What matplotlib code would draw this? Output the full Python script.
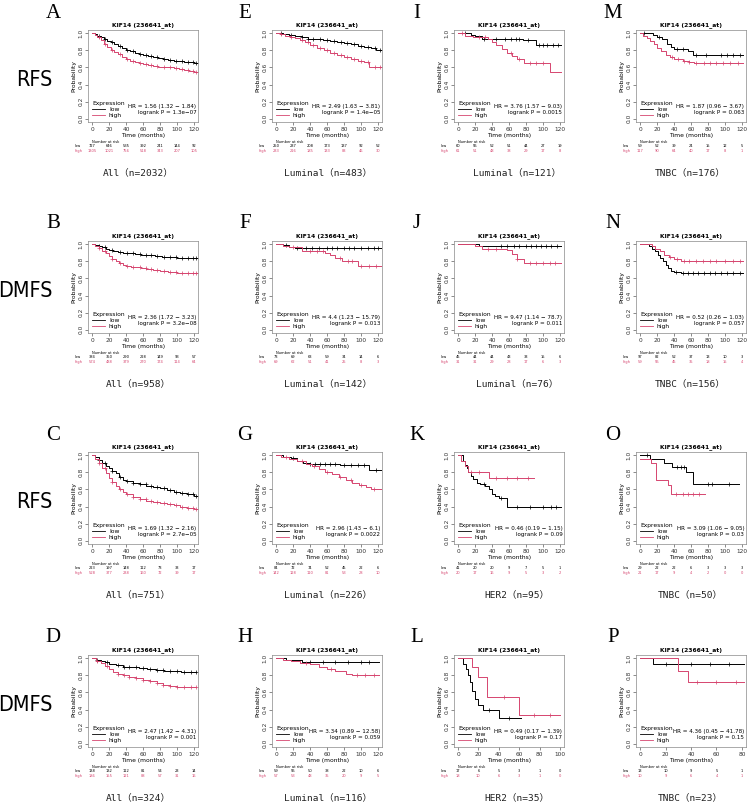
import numpy as np
import matplotlib
matplotlib.use("Agg")
import matplotlib.pyplot as plt

RED = "#d6456f"
W, H = 750, 809

# ---- survival curves: (time in months, survival probability), step "post" ----
# row 1 : RFS
A_low = ([0, 3, 6, 10, 14, 18, 22, 26, 30, 35, 40, 45, 50, 55, 60, 66, 72, 78, 84, 90, 96, 102, 108, 114, 120, 125],
         [1, .99, .975, .955, .935, .915, .895, .875, .855, .83, .81, .79, .775, .76, .745, .73, .72, .71, .70, .69, .68, .675, .668, .662, .655, .652])
A_high = ([0, 3, 6, 10, 14, 18, 22, 26, 30, 35, 40, 45, 50, 55, 60, 66, 72, 78, 84, 90, 96, 102, 108, 114, 120, 125],
          [1, .98, .955, .92, .88, .845, .81, .78, .755, .725, .70, .68, .665, .65, .64, .63, .62, .61, .605, .60, .59, .58, .57, .56, .55, .545])
E_low = ([0, 8, 15, 22, 30, 38, 46, 55, 64, 72, 80, 88, 96, 104, 112, 118, 125],
         [1, .995, .985, .97, .955, .94, .93, .92, .91, .90, .89, .87, .85, .84, .83, .81, .81])
E_high = ([0, 5, 10, 16, 22, 28, 34, 40, 48, 56, 64, 72, 80, 88, 96, 104, 110, 118, 125],
          [1, .99, .975, .96, .945, .92, .895, .865, .83, .80, .77, .745, .72, .70, .68, .66, .61, .60, .60])
I_low = ([0, 15, 20, 28, 76, 92, 121],
         [1, .985, .965, .94, .925, .86, .86])
I_high = ([0, 8, 18, 35, 40, 45, 52, 58, 64, 70, 78, 108, 121],
          [1, .975, .955, .93, .90, .86, .82, .77, .73, .70, .65, .55, .55])
M_low = ([0, 15, 20, 26, 32, 36, 40, 56, 62, 121],
         [1, .985, .96, .93, .88, .84, .82, .79, .75, .75])
M_high = ([0, 4, 8, 12, 16, 20, 25, 30, 35, 40, 50, 58, 63, 121],
          [1, .97, .945, .91, .87, .83, .79, .75, .72, .70, .68, .665, .65, .65])
# row 2 : DMFS
B_low = ([0, 4, 8, 12, 16, 20, 25, 30, 36, 42, 50, 58, 66, 74, 82, 90, 100, 110, 120, 125],
         [1, .99, .98, .965, .95, .935, .925, .915, .905, .895, .885, .875, .87, .86, .855, .85, .845, .84, .835, .835])
B_high = ([0, 4, 8, 12, 16, 20, 24, 28, 32, 36, 40, 46, 52, 58, 64, 72, 80, 90, 100, 110, 120, 125],
          [1, .98, .955, .925, .895, .86, .83, .80, .78, .76, .75, .74, .73, .72, .71, .70, .69, .68, .67, .665, .66, .66])
F_low = ([0, 8, 15, 22, 125],
         [1, .99, .975, .96, .96])
F_high = ([0, 8, 15, 30, 58, 64, 70, 78, 96, 125],
          [1, .985, .965, .92, .90, .87, .84, .81, .75, .75])
J_low = ([0, 25, 121],
         [1, .98, .98])
J_high = ([0, 20, 28, 58, 64, 70, 78, 121],
          [1, .98, .95, .93, .89, .83, .78, .78])
N_low = ([0, 10, 14, 18, 21, 24, 27, 30, 33, 36, 40, 48, 121],
         [1, .98, .95, .92, .88, .84, .80, .76, .72, .69, .68, .67, .67])
N_high = ([0, 14, 18, 24, 28, 34, 40, 48, 121],
          [1, .98, .95, .92, .88, .85, .83, .81, .81])
# row 3 : RFS
C_low = ([0, 4, 8, 12, 16, 20, 24, 28, 32, 36, 40, 48, 56, 64, 72, 80, 88, 96, 104, 112, 120, 125],
         [1, .98, .95, .915, .88, .85, .82, .79, .75, .71, .695, .68, .665, .64, .625, .615, .595, .57, .56, .545, .52, .52])
C_high = ([0, 4, 8, 12, 16, 20, 24, 28, 32, 36, 40, 48, 56, 64, 72, 80, 88, 96, 104, 112, 120, 125],
          [1, .96, .91, .85, .79, .74, .69, .64, .605, .575, .55, .515, .49, .47, .455, .44, .43, .415, .40, .385, .37, .36])
G_low = ([0, 8, 18, 25, 32, 40, 75, 110, 125],
         [1, .985, .965, .94, .915, .90, .885, .83, .83])
G_high = ([0, 6, 15, 25, 35, 42, 50, 58, 66, 74, 82, 90, 98, 106, 112, 125],
          [1, .985, .96, .93, .90, .87, .84, .81, .78, .75, .71, .68, .655, .63, .60, .60])
K_low = ([0, 6, 8, 10, 12, 15, 18, 22, 26, 32, 36, 40, 44, 48, 58, 121],
         [1, .93, .89, .85, .80, .76, .72, .68, .66, .64, .60, .55, .52, .50, .40, .40])
K_high = ([0, 4, 8, 12, 37, 90],
          [1, .93, .87, .80, .73, .73])
O_low = ([0, 12, 28, 38, 54, 62, 116],
         [1, .96, .91, .86, .80, .66, .66])
O_high = ([0, 13, 19, 33, 37, 76],
          [.96, .91, .71, .65, .55, .55])
# row 4 : DMFS
D_low = ([0, 5, 10, 15, 20, 28, 36, 45, 55, 65, 75, 85, 95, 105, 115, 122],
         [1, .985, .97, .955, .94, .92, .905, .895, .885, .875, .865, .855, .85, .845, .84, .84])
D_high = ([0, 5, 10, 15, 20, 25, 30, 36, 44, 52, 60, 68, 76, 84, 92, 100, 110, 122],
          [1, .975, .945, .91, .875, .845, .82, .80, .785, .77, .75, .73, .71, .69, .675, .665, .66, .66])
H_low = ([0, 12, 30, 121],
         [1, .98, .96, .96])
H_high = ([0, 8, 18, 28, 40, 50, 60, 70, 82, 90, 121],
          [1, .985, .97, .95, .93, .90, .87, .85, .82, .80, .80])
L_low = ([0, 5, 8, 10, 12, 14, 17, 20, 24, 40, 62],
         [1, .94, .88, .80, .72, .62, .52, .45, .40, .30, .30])
L_high = ([0, 14, 20, 28, 60, 100],
          [1, .90, .78, .55, .33, .33])
P_low = ([0, 10, 82],
         [1, .94, .94])
P_high = ([0, 30, 38, 82],
          [1, .85, .72, .72])

# ---- censoring times (months) ----
A_cens = [8, 15, 24, 33, 41, 48, 56, 63, 70, 77, 85, 92, 99, 106, 113, 119, 123]
E_cens = [6, 18, 30, 38, 44, 52, 60, 68, 76, 84, 92, 100, 108, 116, 122]
I_low_c = [8, 30, 45, 55, 62, 68, 72, 82, 95, 100, 105, 112, 118]
I_high_c = [5, 25, 32, 62, 72, 85, 92, 100]
M_low_c = [5, 22, 44, 50, 66, 78, 95, 102, 110, 118]
M_high_c = [38, 45, 52, 58, 66, 75, 82, 90, 98, 106, 115]
F_low_c = [12, 25, 35, 42, 50, 60, 66, 72, 80, 86, 92, 100, 108, 115, 120]
F_high_c = [20, 40, 48, 55, 75, 85, 90, 100, 110, 118]
J_low_c = [50, 58, 66, 72, 80, 86, 92, 98, 104, 110, 116]
J_high_c = [35, 45, 70, 85, 92, 100, 108, 114]
N_low_c = [42, 50, 56, 62, 68, 75, 82, 88, 95, 102, 110, 118]
N_high_c = [35, 44, 52, 58, 66, 74, 82, 90, 100, 110, 118]
G_low_c = [20, 40, 46, 52, 58, 64, 70, 80, 88, 96, 104, 118]
G_high_c = [12, 30, 45, 60, 75, 88, 100, 115]
K_low_c = [30, 50, 70, 85, 100, 110, 115]
K_high_c = [15, 25, 45, 58, 70, 82]
O_low_c = [8, 44, 48, 52, 80, 85, 105]
O_high_c = [42, 50, 56, 62, 70]
H_low_c = [40, 55, 70, 85, 100, 110]
H_high_c = [35, 65, 95, 105, 115]
L_low_c = [30, 50]
L_high_c = [45, 75, 90]
P_low_c = [20, 40, 55, 70]
P_high_c = [45, 60, 75]

# ---- numbers at risk ----
A_risk = ([727, 646, 535, 392, 241, 144, 92], [1305, 1021, 756, 518, 343, 207, 105])
E_risk = ([250, 237, 208, 173, 137, 92, 52], [233, 216, 185, 133, 83, 46, 30])
I_risk = ([60, 55, 52, 51, 44, 27, 19], [61, 51, 48, 38, 29, 17, 8])
M_risk = ([59, 52, 39, 24, 15, 12, 5], [117, 90, 64, 40, 17, 8, 1])
B_risk = ([384, 350, 290, 228, 149, 93, 57], [574, 488, 379, 270, 174, 114, 64])
F_risk = ([73, 69, 63, 59, 34, 14, 6], [69, 62, 51, 41, 25, 8, 3])
J_risk = ([45, 44, 44, 43, 33, 15, 6], [31, 31, 29, 28, 17, 6, 3])
N_risk = ([97, 82, 52, 37, 13, 10, 3], [59, 55, 45, 35, 18, 15, 4])
C_risk = ([223, 197, 148, 112, 73, 33, 17], [528, 377, 238, 160, 72, 39, 17])
G_risk = ([84, 72, 74, 52, 45, 22, 6], [142, 128, 110, 81, 53, 28, 10])
K_risk = ([41, 20, 20, 9, 7, 5, 1], [20, 17, 16, 9, 5, 3, 2])
O_risk = ([29, 22, 22, 6, 3, 3, 3], [21, 17, 9, 4, 2, 0, 0])
D_risk = ([138, 132, 112, 81, 54, 23, 14], [186, 155, 121, 88, 57, 31, 16])
H_risk = ([59, 55, 50, 38, 22, 10, 6], [57, 53, 48, 35, 20, 9, 5])
L_risk = ([17, 6, 5, 3, 1, 0], [18, 10, 6, 3, 1, 0])
P_risk = ([13, 10, 9, 5, 1], [10, 9, 6, 4, 1])

ticks120 = [0, 20, 40, 60, 80, 100, 120]
ticks100 = [0, 20, 40, 60, 80, 100]
ticks80 = [0, 20, 40, 60, 80]

hr_text = {
    "A": ("HR = 1.56 (1.32 − 1.84)", "logrank P = 1.3e−07"),
    "E": ("HR = 2.49 (1.63 − 3.81)", "logrank P = 1.4e−05"),
    "I": ("HR = 3.76 (1.57 − 9.03)", "logrank P = 0.0015"),
    "M": ("HR = 1.87 (0.96 − 3.67)", "logrank P = 0.063"),
    "B": ("HR = 2.36 (1.72 − 3.23)", "logrank P = 3.2e−08"),
    "F": ("HR = 4.4 (1.23 − 15.79)", "logrank P = 0.013"),
    "J": ("HR = 9.47 (1.14 − 78.7)", "logrank P = 0.011"),
    "N": ("HR = 0.52 (0.26 − 1.03)", "logrank P = 0.057"),
    "C": ("HR = 1.69 (1.32 − 2.16)", "logrank P = 2.7e−05"),
    "G": ("HR = 2.96 (1.43 − 6.1)", "logrank P = 0.0022"),
    "K": ("HR = 0.46 (0.19 − 1.15)", "logrank P = 0.09"),
    "O": ("HR = 3.09 (1.06 − 9.05)", "logrank P = 0.03"),
    "D": ("HR = 2.47 (1.42 − 4.31)", "logrank P = 0.001"),
    "H": ("HR = 3.34 (0.89 − 12.58)", "logrank P = 0.059"),
    "L": ("HR = 0.49 (0.17 − 1.39)", "logrank P = 0.17"),
    "P": ("HR = 4.36 (0.45 − 41.78)", "logrank P = 0.15"),
}

subtitles = {
    "A": "All（n=2032）", "E": "Luminal（n=483）", "I": "Luminal（n=121）", "M": "TNBC（n=176）",
    "B": "All（n=958）", "F": "Luminal（n=142）", "J": "Luminal（n=76）", "N": "TNBC（n=156）",
    "C": "All（n=751）", "G": "Luminal（n=226）", "K": "HER2（n=95）", "O": "TNBC（n=50）",
    "D": "All（n=324）", "H": "Luminal（n=116）", "L": "HER2（n=35）", "P": "TNBC（n=23）",
}
row_labels = ["RFS", "DMFS", "RFS", "DMFS"]

layout = [["A", "E", "I", "M"], ["B", "F", "J", "N"], ["C", "G", "K", "O"], ["D", "H", "L", "P"]]

panels = {
    "A": (A_low, A_high, A_cens, A_cens, A_risk, ticks120),
    "E": (E_low, E_high, E_cens, E_cens, E_risk, ticks120),
    "I": (I_low, I_high, I_low_c, I_high_c, I_risk, ticks120),
    "M": (M_low, M_high, M_low_c, M_high_c, M_risk, ticks120),
    "B": (B_low, B_high, A_cens, A_cens, B_risk, ticks120),
    "F": (F_low, F_high, F_low_c, F_high_c, F_risk, ticks120),
    "J": (J_low, J_high, J_low_c, J_high_c, J_risk, ticks120),
    "N": (N_low, N_high, N_low_c, N_high_c, N_risk, ticks120),
    "C": (C_low, C_high, A_cens, A_cens, C_risk, ticks120),
    "G": (G_low, G_high, G_low_c, G_high_c, G_risk, ticks120),
    "K": (K_low, K_high, K_low_c, K_high_c, K_risk, ticks120),
    "O": (O_low, O_high, O_low_c, O_high_c, O_risk, ticks120),
    "D": (D_low, D_high, E_cens, E_cens, D_risk, ticks120),
    "H": (H_low, H_high, H_low_c, H_high_c, H_risk, ticks120),
    "L": (L_low, L_high, L_low_c, L_high_c, L_risk, ticks100),
    "P": (P_low, P_high, P_low_c, P_high_c, P_risk, ticks80),
}

col_left = [88, 272, 454, 636]
row_top = [30, 241, 452, 655]
ax_w, ax_h = 110, 92
letter_x = [53, 245, 417, 613]
sub_x = [138, 328, 517, 690]


def surv_at(curve, times):
    t, s = np.array(curve[0]), np.array(curve[1])
    idx = np.searchsorted(t, times, side="right") - 1
    idx = np.clip(idx, 0, len(s) - 1)
    ok = np.array(times) <= t[-1]
    return np.array(times)[ok], s[idx][ok]


fig = plt.figure(figsize=(W / 100, H / 100), dpi=100)

for r, row in enumerate(layout):
    fig.text(53 / W, 1 - (row_top[r] + 50) / H, row_labels[r], ha="right", va="center",
             fontsize=15.5, family="DejaVu Sans", fontstretch="condensed")
    for c, key in enumerate(row):
        low, high, lc, hc, risk, ticks = panels[key]
        left, top = col_left[c], row_top[r]
        ax = fig.add_axes([left / W, 1 - (top + ax_h) / H, ax_w / W, ax_h / H])
        pad = ticks[-1] * 0.04
        for curve, cens, col in [(low, lc, "black"), (high, hc, RED)]:
            ax.step(curve[0], curve[1], where="post", color=col, lw=0.7)
            ct, cs = surv_at(curve, cens)
            ax.plot(ct, cs, "+", color=col, ms=2.2, mew=0.5)
        ax.set_xlim(-pad, ticks[-1] + pad)
        ax.set_ylim(-0.04, 1.04)
        ax.set_xticks(ticks)
        ax.set_yticks([0, 0.2, 0.4, 0.6, 0.8, 1.0])
        ax.set_yticklabels(["0.0", "0.2", "0.4", "0.6", "0.8", "1.0"], rotation=90, va="center")
        ax.tick_params(labelsize=4.2, length=2, width=0.4, pad=1.5, colors="#333333")
        for sp in ax.spines.values():
            sp.set_linewidth(0.5)
            sp.set_color("#888888")
        ax.set_xlabel("Time (months)", fontsize=4.3, labelpad=1)
        ax.set_ylabel("Probability", fontsize=4.3, labelpad=1.5)
        ax.set_title("KIF14 (236641_at)", fontsize=4.3, fontweight="bold", pad=3)
        ax.plot([], [], color="black", lw=0.6, label="low")
        ax.plot([], [], color=RED, lw=0.6, label="high")
        leg = ax.legend(loc="lower left", title="Expression", fontsize=4.3, title_fontsize=4.3,
                        frameon=False, handlelength=2.2, labelspacing=0.1, borderaxespad=0.3,
                        handletextpad=0.6)
        leg._legend_box.align = "left"
        hr, lp = hr_text[key]
        ax.text(0.985, 0.17, hr, transform=ax.transAxes, ha="right", va="center", fontsize=4.1)
        ax.text(0.985, 0.10, lp, transform=ax.transAxes, ha="right", va="center", fontsize=4.1)
        # number at risk table
        tr = ax.get_xaxis_transform()
        ax.text(ticks[0], -0.215, "Number at risk", transform=tr, fontsize=2.6, ha="left", va="center")
        ax.text(-0.09, -0.265, "low", transform=ax.transAxes, fontsize=2.6, ha="center", va="center")
        ax.text(-0.09, -0.31, "high", transform=ax.transAxes, fontsize=2.6, ha="center", va="center",
                color=RED)
        for x, lo, hi in zip(ticks, risk[0], risk[1]):
            ax.text(x, -0.265, str(lo), transform=tr, fontsize=2.6, ha="center", va="center")
            ax.text(x, -0.31, str(hi), transform=tr, fontsize=2.6, ha="center", va="center", color=RED)
        fig.text(letter_x[c] / W, 1 - (top - 17) / H, key, ha="center", va="center",
                 fontsize=15, family="Liberation Serif")
        fig.text(sub_x[c] / W, 1 - (top + 143) / H, subtitles[key], ha="center", va="center",
                 fontsize=6.8, family=["DejaVu Sans Mono", "Noto Sans CJK SC"], color="#222222")

fig.savefig("out.png", dpi=100)
